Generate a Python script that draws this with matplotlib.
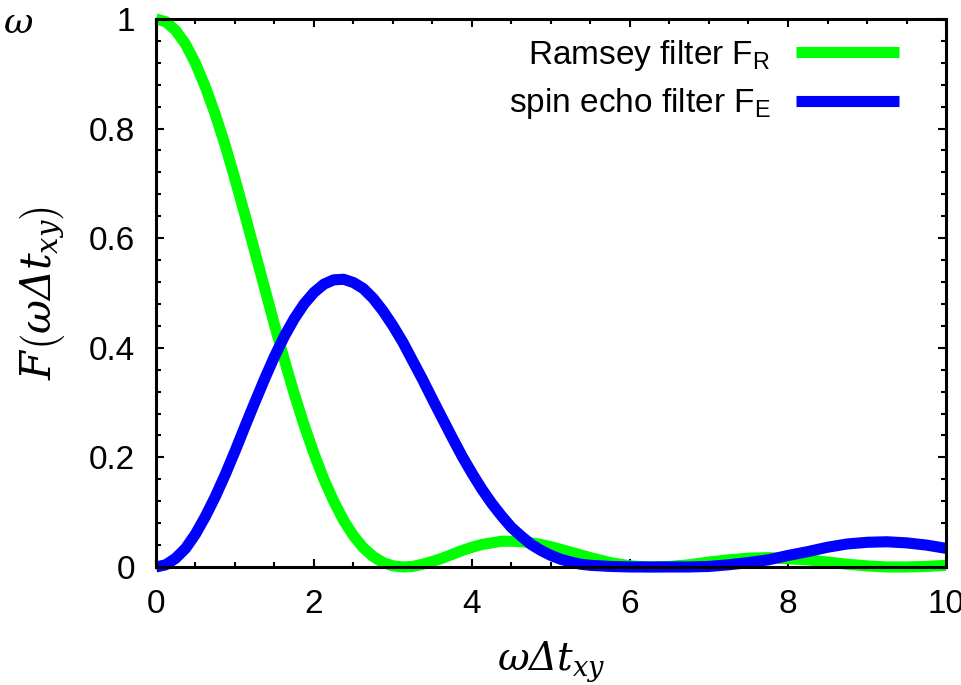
import matplotlib
matplotlib.use("Agg")
import matplotlib.pyplot as plt
from matplotlib.ticker import MultipleLocator

plt.rcParams['font.family'] = ['Liberation Sans', 'DejaVu Sans']
plt.rcParams['mathtext.fontset'] = 'custom'
plt.rcParams['mathtext.rm'] = 'DejaVu Serif:italic'
plt.rcParams['mathtext.it'] = 'DejaVu Serif:italic'

# values (denser where the curves bend)
x_vals = [0.0, 0.125, 0.25, 0.375, 0.5, 0.625, 0.75, 0.875, 1.0, 1.125,
          1.25, 1.375, 1.5, 1.625, 1.75, 1.875, 2.0, 2.125, 2.25, 2.375,
          2.5, 2.625, 2.75, 2.875, 3.0, 3.125, 3.25, 3.375, 3.5, 3.625,
          3.75, 3.875, 4.0, 4.125, 4.25, 4.375, 4.5, 4.625, 4.75, 4.875,
          5.0, 5.125, 5.25, 5.375, 5.5, 5.75, 6.0, 6.25, 6.5, 6.75,
          7.0, 7.25, 7.5, 7.75, 8.0, 8.25, 8.5, 8.75, 9.0, 9.25,
          9.5, 9.75, 10.0]

ramsey = [1.000, 0.995, 0.979, 0.954, 0.919, 0.876, 0.826, 0.770, 0.708, 0.643,
          0.576, 0.509, 0.442, 0.378, 0.316, 0.259, 0.207, 0.160, 0.120, 0.085,
          0.057, 0.035, 0.019, 0.008, 0.002, 0.000, 0.001, 0.005, 0.010, 0.016,
          0.023, 0.030, 0.036, 0.041, 0.044, 0.047, 0.047, 0.046, 0.044, 0.041,
          0.037, 0.032, 0.027, 0.022, 0.017, 0.008, 0.002, 0.000, 0.001, 0.004,
          0.009, 0.013, 0.016, 0.017, 0.015, 0.013, 0.009, 0.005, 0.002, 0.000,
          0.000, 0.001, 0.003]

spin_echo = [0.000, 0.004, 0.016, 0.034, 0.060, 0.092, 0.128, 0.168, 0.211, 0.256,
             0.300, 0.343, 0.384, 0.421, 0.453, 0.480, 0.501, 0.516, 0.524, 0.525,
             0.519, 0.508, 0.490, 0.467, 0.440, 0.410, 0.376, 0.342, 0.306, 0.271,
             0.236, 0.202, 0.171, 0.142, 0.116, 0.093, 0.072, 0.056, 0.041, 0.030,
             0.021, 0.014, 0.009, 0.005, 0.003, 0.001, 0.000, 0.000, 0.000, 0.000,
             0.001, 0.004, 0.008, 0.013, 0.021, 0.028, 0.036, 0.042, 0.045, 0.046,
             0.044, 0.040, 0.034]

labels = ['Ramsey filter F$_\\mathregular{R}$', 'spin echo filter F$_\\mathregular{E}$']
colors = ['#00ff00', '#0000ff']

fig = plt.figure(figsize=(9.61, 6.85), dpi=100)
ax = fig.add_axes([0.1623, 0.1723, 0.8221, 0.8000])

for y, lab, c in zip([ramsey, spin_echo], labels, colors):
    ax.plot(x_vals, y, color=c, lw=8, label=lab, clip_on=False,
            solid_capstyle='butt', solid_joinstyle='round')

ax.set_xlim(0, 10)
ax.set_ylim(0, 1)
ax.xaxis.set_minor_locator(MultipleLocator(0.5))
ax.yaxis.set_minor_locator(MultipleLocator(0.04))
ax.set_yticks([0, 0.2, 0.4, 0.6, 0.8, 1.0])
ax.set_yticklabels(['0', '0.2', '0.4', '0.6', '0.8', '1'])
ax.set_xticks([0, 2, 4, 6, 8, 10])
ax.set_xticklabels(['0', '2', '4', '6', '8', '10'])

ax.tick_params(which='both', direction='in', top=True, right=True, width=1.5, labelsize=24)
ax.tick_params(which='major', length=6)
ax.tick_params(which='minor', length=3.5)
ax.tick_params(axis='y', pad=15)
ax.tick_params(axis='x', pad=16)
for s in ax.spines.values():
    s.set_linewidth(2.2)

ax.set_xlabel(r'$\omega\Delta t_{xy}$', fontsize=28, labelpad=14)
ax.set_ylabel(r'$F\left(\omega\Delta t_{xy}\right)$', fontsize=30, labelpad=16)

fig.text(0.003, 0.965, r'$\omega$', fontsize=26, va='center')

ax.legend(loc='upper right', bbox_to_anchor=(0.9405, 0.965), frameon=False,
          markerfirst=False, handlelength=3.1, handletextpad=0.75, fontsize=24,
          borderpad=0, borderaxespad=0, labelspacing=0.4)

fig.savefig('out.png', dpi=100)
